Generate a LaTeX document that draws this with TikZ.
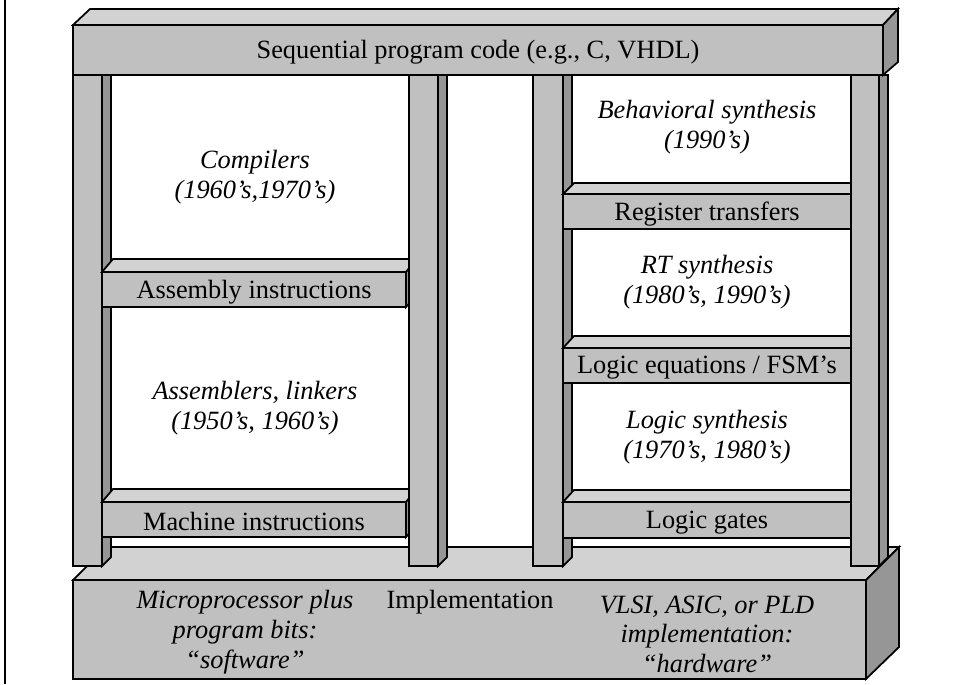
\documentclass[tikz,border=0pt]{standalone}
\usepackage{fontspec}
\setmainfont{Liberation Serif}
\definecolor{facegray}{RGB}{192,192,192}
\definecolor{topgray}{RGB}{210,210,210}
\definecolor{sidegray}{RGB}{150,150,150}
\tikzset{
    frontface/.style={fill=facegray, draw=black, line width=1pt},
    topface/.style={fill=topgray, draw=black, line width=1pt},
    sideface/.style={fill=sidegray, draw=black, line width=1pt},
    lbl/.style={font=\fontsize{15}{17}\selectfont, align=center, inner sep=0pt, yshift=-1.3pt},
    era/.style={font=\fontsize{15}{17}\selectfont\itshape, align=center, inner sep=0pt, yshift=-1.3pt}
}
\begin{document}
\begin{tikzpicture}[x=0.02cm, y=-0.02cm]
        \useasboundingbox (0,0) rectangle (961,684);
        \draw[line width=1pt] (5,0) -- (5,684);
        % base
        \filldraw[topface] (73,580) -- (106,547) -- (899,547) -- (866,580) -- cycle;
        \filldraw[sideface] (866,580) -- (899,547) -- (899,647) -- (866,679) -- cycle;
        \filldraw[frontface] (73,580) rectangle (866,679);
        % back pillars
        \foreach \a/\b in {73/102, 533/563} {
            \filldraw[sideface] (\b,75) -- (\b+9,75) -- (\b+9,557) -- (\b,566) -- cycle;
            \filldraw[frontface] (\a,75) rectangle (\b,566);
        }
        % rungs
        \filldraw[topface] (102,272) -- (113,259) -- (417,259) -- (406,272) -- cycle;
        \filldraw[sideface] (406,272) -- (417,259) -- (417,294) -- (406,307) -- cycle;
        \filldraw[frontface] (102,272) rectangle (406,307);
        \filldraw[topface] (102,502) -- (113,489) -- (417,489) -- (406,502) -- cycle;
        \filldraw[sideface] (406,502) -- (417,489) -- (417,524) -- (406,537) -- cycle;
        \filldraw[frontface] (102,502) rectangle (406,537);
        \filldraw[topface] (563,194) -- (574,183) -- (862,183) -- (851,194) -- cycle;
        \filldraw[frontface] (563,194) rectangle (851,229);
        \filldraw[topface] (563,348) -- (574,336) -- (862,336) -- (851,348) -- cycle;
        \filldraw[frontface] (563,348) rectangle (851,383);
        \filldraw[topface] (563,502) -- (574,490) -- (862,490) -- (851,502) -- cycle;
        \filldraw[frontface] (563,502) rectangle (851,538);
        % front pillars
        \foreach \a/\b in {409/438, 851/879} {
            \filldraw[sideface] (\b,75) -- (\b+9,75) -- (\b+9,557) -- (\b,566) -- cycle;
            \filldraw[frontface] (\a,75) rectangle (\b,566);
        }
        % top beam
        \filldraw[topface] (73,25) -- (90,9) -- (898,9) -- (883,25) -- cycle;
        \filldraw[sideface] (883,25) -- (898,9) -- (898,62) -- (883,75) -- cycle;
        \filldraw[frontface] (73,25) rectangle (883,75);
        \node[lbl] (seqcode) at (478,50) {Sequential program code (e.g., C, VHDL)};
        \node[lbl] (asm) at (254,289.5) {Assembly instructions};
        \node[lbl] (mach) at (254,519.5) {Machine instructions};
        \node[lbl] (regt) at (707,211.5) {Register transfers};
        \node[lbl] (logeq) at (707,365.5) {Logic equations / FSM's};
        \node[lbl] (gates) at (707,520) {Logic gates};
        \node[era] (compilers) at (255,175) {Compilers\\(1960’s,1970’s)};
        \node[era] (assemblers) at (255,406) {Assemblers, linkers\\(1950’s, 1960’s)};
        \node[era] (behav) at (707,125) {Behavioral synthesis\\(1990’s)};
        \node[era] (rtsyn) at (707,279.5) {RT synthesis\\(1980’s, 1990’s)};
        \node[era] (logsyn) at (707,435) {Logic synthesis\\(1970’s, 1980’s)};
        \node[era] (software) at (245,630) {Microprocessor plus\\program bits:\\“software”};
        \node[lbl] (impl) at (470,600) {Implementation};
        \node[era] (hardware) at (707,632) {VLSI, ASIC, or PLD\\implementation:\\“hardware”};
    \end{tikzpicture}
\end{document}
